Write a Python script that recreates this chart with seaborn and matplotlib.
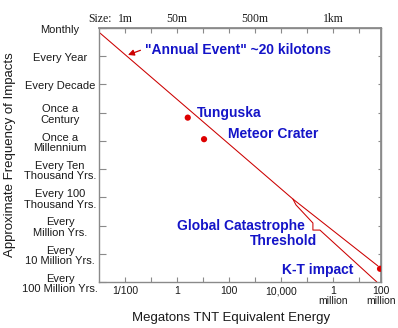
import numpy as np
import pandas as pd
import matplotlib
matplotlib.use("Agg")
import matplotlib.pyplot as plt
from matplotlib.ticker import NullLocator
from matplotlib.transforms import ScaledTranslation
import seaborn as sns

# ---------------- data ----------------
freq_labels = ["Monthly", "Every Year", "Every Decade", "Once a\nCentury",
               "Once a\nMillennium", "Every Ten\nThousand Yrs.",
               "Every 100\nThousand Yrs.", "Every\nMillion Yrs.",
               "Every\n10 Million Yrs.", "Every\n100 Million Yrs."]
freq_years = [0.1, 1, 10, 100, 1e3, 1e4, 1e5, 1e6, 1e7, 1e8]

energy_ticks = [1e-2, 1e-1, 1, 1e1, 1e2, 1e3, 1e4, 1e5, 1e6, 1e7, 10**7.85]
energy_labels = ["1/100", "", "1", "", "100", "", "10,000", "", "1\nmillion", "", "100\nmillion"]
size_ticks = [1e-2, 1e-1, 1, 1e1, 1e2, 1e3, 1e4, 1e5, 1e6, 1e7]
size_labels = ["1m", "", "50m", "", "", "500m", "", "", "1km", ""]

trend_energy = [10**-2.96, 10**4.46, 10**7.73]
trend_years = [10**-0.82, 10**5.06, 10**7.43]

threshold_energy = [10**4.46, 10**4.58, 10**5.23, 10**5.23, 10**5.50, 10**7.69]
threshold_years = [10**5.06, 10**5.27, 10**5.91, 10**6.16, 10**6.16, 10**8.0]

event_names = ["Tunguska", "Meteor Crater", "K-T impact"]
event_energy = [2.6, 11.0, 6.5e7]
event_years = [150, 870, 3.4e7]

annual_energy = 0.013
annual_years = 0.9

# ---------------- style ----------------
sns.set_theme(style="white")
plt.rcParams["font.family"] = ["Liberation Sans", "DejaVu Sans"]
RED = "#cc0000"
BLUE = "#1414c8"
GRAY = "#8a8a8a"
TXT = "#1a1a1a"
SERIF = ["Liberation Serif", "DejaVu Serif"]

fig = plt.figure(figsize=(3.98, 3.28), dpi=100)
ax = fig.add_axes([99 / 398, 1 - 282 / 328, 282 / 398, 254 / 328])
ax.set_xscale("log")
ax.set_yscale("log")

trend = pd.DataFrame({"energy": trend_energy, "years": trend_years})
thr = pd.DataFrame({"energy": threshold_energy, "years": threshold_years})
ev = pd.DataFrame({"energy": event_energy, "years": event_years, "name": event_names})

sns.lineplot(data=trend, x="energy", y="years", ax=ax, color=RED, lw=0.75,
             sort=False, estimator=None)
sns.lineplot(data=thr, x="energy", y="years", ax=ax, color=RED, lw=0.75,
             sort=False, estimator=None)
sns.scatterplot(data=ev, x="energy", y="years", ax=ax, color="#dd0000", s=20,
                edgecolor="none", zorder=5)

ax.set_xlim(1e-3, 10**7.85)
ax.set_ylim(1e8, 0.1)

# ticks
ax.set_xticks(energy_ticks, energy_labels)
ax.set_yticks(freq_years, freq_labels)
ax.xaxis.set_minor_locator(NullLocator())
ax.yaxis.set_minor_locator(NullLocator())
ax.tick_params(axis="x", direction="in", length=3.6, width=0.8, color=GRAY,
               labelsize=7.5, labelcolor=TXT, pad=3, bottom=True)
ax.tick_params(axis="y", direction="in", length=5, width=0.8, color=GRAY,
               labelsize=8, labelcolor=TXT, pad=28, left=True)
shift = ScaledTranslation(0, -2 / 100, fig.dpi_scale_trans)
for lab in ax.get_yticklabels():
    lab.set_ha("center")
    lab.set_va("center")
    lab.set_multialignment("center")
    lab.set_linespacing(1.05)
    lab.set_transform(lab.get_transform() + shift)
for lab in ax.get_xticklabels():
    lab.set_multialignment("center")
    lab.set_linespacing(0.95)

TOP_PAD = 2.5
top = ax.secondary_xaxis("top")
top.set_xticks(size_ticks, size_labels)
top.xaxis.set_minor_locator(NullLocator())
top.tick_params(direction="in", length=3.6, width=0.8, color=GRAY, pad=TOP_PAD,
                labelsize=8.5, labelcolor=TXT)
for lab in top.get_xticklabels():
    lab.set_family(SERIF)
top.spines["top"].set_color(GRAY)
ax.annotate("Size:", xy=(10**-2.5, 1.0), xycoords=ax.get_xaxis_transform(),
            xytext=(0, TOP_PAD), textcoords="offset points", ha="right",
            va="bottom", fontsize=8.5, family=SERIF, color=TXT)

right = ax.secondary_yaxis("right")
right.set_yticks(freq_years[1:-1], [""] * (len(freq_years) - 2))
right.yaxis.set_minor_locator(NullLocator())
right.tick_params(direction="in", length=2.5, width=0.8, color=GRAY)

for sp in ax.spines.values():
    sp.set_color(GRAY)
    sp.set_linewidth(1.0)
right.spines["right"].set_color(GRAY)

# axis labels
ax.set_xlabel("Megatons TNT Equivalent Energy", fontsize=9.5, color=TXT)
ax.xaxis.label.set_va("center")
ax.xaxis.set_label_coords(0.47, -0.142)
ax.set_ylabel("Approximate Frequency of Impacts", fontsize=9.5, color=TXT)
ax.yaxis.label.set_va("center")
ax.yaxis.set_label_coords(-0.316, 0.5)

# annotations
tk = dict(color=BLUE, fontweight="bold", fontsize=10, va="center", ha="left")
ax.annotate('"Annual Event" ~20 kilotons', xy=(annual_energy, annual_years),
            xytext=(10**-1.23, 10**-0.22),
            arrowprops=dict(arrowstyle="-|>", color=RED, lw=0.9, mutation_scale=9,
                            shrinkA=1, shrinkB=0, relpos=(0, 0.6)), **tk)
ax.text(10**0.77, 10**2.01, "Tunguska", **tk)
ax.text(10**1.96, 10**2.76, "Meteor Crater", **tk)
ax.text(10**0.0, 10**6.02, "Global Catastrophe", **tk)
ax.text(10**2.81, 10**6.55, "Threshold", **tk)
ax.text(10**4.04, 10**7.58, "K-T impact", **tk)

fig.savefig("out.png", dpi=100)
